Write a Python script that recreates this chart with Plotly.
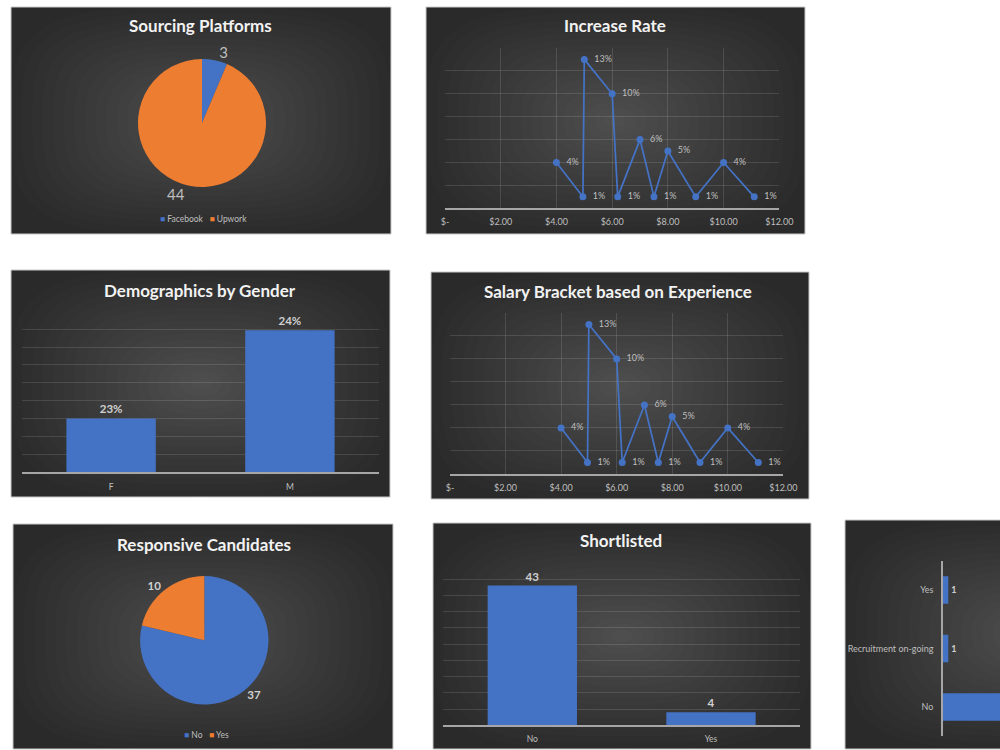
import math
import plotly.graph_objects as go

W, H = 1000, 750

# ---------------- data ----------------
platform_labels = ["Facebook", "Upwork"]
platform_values = [3, 44]

rate_x = [4.0, 4.95, 5.0, 6.0, 6.2, 7.0, 7.5, 8.0, 9.0, 10.0, 11.1]
rate_y = [0.04, 0.01, 0.13, 0.10, 0.01, 0.06, 0.01, 0.05, 0.01, 0.04, 0.01]

salary_x = [4.0, 4.95, 5.0, 6.0, 6.2, 7.0, 7.5, 8.0, 9.0, 10.0, 11.1]
salary_y = [0.04, 0.01, 0.13, 0.10, 0.01, 0.06, 0.01, 0.05, 0.01, 0.04, 0.01]

money_ticks = [0, 2, 4, 6, 8, 10, 12]
money_tick_text = ["$-", "$2.00", "$4.00", "$6.00", "$8.00", "$10.00", "$12.00"]

gender_labels = ["F", "M"]
gender_values = [0.2300, 0.2399]

responsive_labels = ["No", "Yes"]
responsive_values = [37, 10]

shortlisted_labels = ["No", "Yes"]
shortlisted_values = [43, 4]

status_labels = ["No", "Recruitment on-going", "Yes"]
status_values = [45, 1, 1]
STATUS_VISIBLE_MAX = 10.75  # x-range shown in the cropped panel

# ---------------- styling ----------------
BLUE = "#4472C4"
ORANGE = "#ED7D31"
GRID = "rgba(255,255,255,0.12)"
AXIS = "#a6a6a6"
TICK = "#bfbfbf"
LABEL = "#d0d0d0"
TITLE = "#f2f2f2"
FONT = "Lato, Open Sans, sans-serif"


def fx(p):
    return p / W


def fy(p):
    return 1 - p / H


shapes = []


def panel(x0, y0, x1, y1):
    shapes.append(dict(type="rect", xref="paper", yref="paper", layer="below",
                       x0=fx(x0), x1=fx(x1), y0=fy(y1), y1=fy(y0),
                       fillcolor="#2a2a2a", line=dict(width=0)))
    cx, cy = (x0 + x1) / 2, (y0 + y1) / 2
    hw, hh = (x1 - x0) / 2, (y1 - y0) / 2
    n = 18
    for i in range(n):
        s = 1 - i / n
        p = 2 + 1.6 * s
        pts = []
        for k in range(73):
            t = 2 * math.pi * k / 72
            c, si = math.cos(t), math.sin(t)
            px = cx + hw * s * math.copysign(abs(c) ** (2 / p), c)
            py = cy + hh * s * math.copysign(abs(si) ** (2 / p), si)
            pts.append(f"{fx(px):.5f},{fy(py):.5f}")
        path = "M" + " L".join(pts) + " Z"
        shapes.append(dict(type="path", xref="paper", yref="paper", layer="below",
                           path=path, fillcolor="rgba(255,255,255,0.013)",
                           line=dict(width=0)))
    shapes.append(dict(type="rect", xref="paper", yref="paper", layer="below",
                       x0=fx(x0), x1=fx(x1), y0=fy(y1), y1=fy(y0),
                       fillcolor="rgba(0,0,0,0)", line=dict(color="#c8c8c8", width=1)))


panel(11, 7, 391, 234)
panel(426, 7, 805, 234)
panel(11, 270, 390, 497)
panel(431, 272, 809, 499)
panel(13, 524, 393, 749)
panel(433, 523, 811, 749)
panel(845, 520, 1225, 749)

fig = go.Figure()

# Pie: Sourcing Platforms
fig.add_trace(go.Pie(
    labels=platform_labels, values=platform_values, sort=False,
    direction="clockwise", rotation=0,
    marker=dict(colors=[BLUE, ORANGE], line=dict(width=0)),
    textinfo="value", textposition="outside",
    outsidetextfont=dict(size=15, color=TICK, family=FONT),
    domain=dict(x=[fx(138), fx(266)], y=[fy(187), fy(59)]),
    showlegend=False, automargin=False,
))

# Pie: Responsive Candidates
fig.add_trace(go.Pie(
    labels=responsive_labels, values=responsive_values, sort=False,
    direction="clockwise", rotation=0,
    marker=dict(colors=[BLUE, ORANGE], line=dict(width=0)),
    textinfo="value", textposition="outside",
    outsidetextfont=dict(size=11.5, color=LABEL, family=FONT, weight="bold"),
    domain=dict(x=[fx(140.1), fx(268.5)], y=[fy(704.5), fy(576.1)]),
    showlegend=False, automargin=False,
))

# Line: Increase Rate
fig.add_trace(go.Scatter(
    x=rate_x, y=rate_y, mode="lines+markers+text",
    texttemplate="  %{y:.0%}", textposition="middle right",
    textfont=dict(size=9, color=TICK, family=FONT),
    line=dict(color=BLUE, width=1.75), marker=dict(size=7, color=BLUE),
    cliponaxis=False, xaxis="x", yaxis="y", showlegend=False,
))

# Line: Salary Bracket
fig.add_trace(go.Scatter(
    x=salary_x, y=salary_y, mode="lines+markers+text",
    texttemplate="  %{y:.0%}", textposition="middle right",
    textfont=dict(size=9, color=TICK, family=FONT),
    line=dict(color=BLUE, width=1.75), marker=dict(size=7, color=BLUE),
    cliponaxis=False, xaxis="x2", yaxis="y2", showlegend=False,
))

# Bar: Demographics by Gender
fig.add_trace(go.Bar(
    x=gender_labels, y=gender_values, width=0.5, marker=dict(color=BLUE, line=dict(width=0)),
    texttemplate="%{y:.0%}", textposition="outside",
    outsidetextfont=dict(size=11.5, color=LABEL, family=FONT, weight="bold"),
    xaxis="x3", yaxis="y3", showlegend=False,
))

# Bar: Shortlisted
fig.add_trace(go.Bar(
    x=shortlisted_labels, y=shortlisted_values, width=0.5, marker=dict(color=BLUE, line=dict(width=0)),
    texttemplate="%{y}", textposition="outside",
    outsidetextfont=dict(size=11.5, color=LABEL, family=FONT, weight="bold"),
    xaxis="x4", yaxis="y4", showlegend=False,
))

# Horizontal bar (partially visible, cropped at the page edge)
status_text = [str(v) if v <= STATUS_VISIBLE_MAX else "" for v in status_values]
fig.add_trace(go.Bar(
    y=status_labels, x=status_values, orientation="h", width=0.47,
    marker=dict(color=BLUE, line=dict(width=0)),
    text=status_text, textposition="outside",
    outsidetextfont=dict(size=9, color=LABEL, family=FONT, weight="bold"),
    xaxis="x5", yaxis="y5", showlegend=False,
))

common_x = dict(showgrid=False, zeroline=False, ticks="", automargin=False,
                tickfont=dict(size=9, color=TICK, family=FONT))
common_y = dict(zeroline=False, showticklabels=False, ticks="", automargin=False)

fig.update_layout(
    width=W, height=H, autosize=False, margin=dict(l=0, r=0, t=0, b=0, pad=0),
    paper_bgcolor="white", plot_bgcolor="rgba(0,0,0,0)",
    font=dict(family=FONT, color=TICK),
    showlegend=False, bargap=0.5,
    shapes=shapes,
    xaxis=dict(common_x, domain=[fx(445), fx(779.3)], range=[0, 12], tickvals=money_ticks,
               ticktext=money_tick_text, showgrid=True, gridcolor=GRID,
               showline=True, linecolor=AXIS, linewidth=1.5, anchor="y", ticklabelstandoff=4),
    yaxis=dict(common_y, domain=[fy(208.3), fy(47.7)], range=[0, 0.1402], dtick=0.02,
               showgrid=True, gridcolor=GRID, anchor="x"),
    xaxis2=dict(common_x, domain=[fx(450), fx(783.3)], range=[0, 12], tickvals=money_ticks,
                ticktext=money_tick_text, showgrid=True, gridcolor=GRID,
                showline=True, linecolor=AXIS, linewidth=1.5, anchor="y2", ticklabelstandoff=4),
    yaxis2=dict(common_y, domain=[fy(474), fy(312.7)], range=[0, 0.1402], dtick=0.02,
                showgrid=True, gridcolor=GRID, anchor="x2"),
    xaxis3=dict(common_x, domain=[fx(21.7), fx(379.3)], tickfont=dict(size=8.5, color=TICK, family=FONT),
                showline=True, linecolor=AXIS, linewidth=1.5, anchor="y3", ticklabelstandoff=6),
    yaxis3=dict(common_y, domain=[fy(472), fy(311.3)], range=[0.224, 0.24202], dtick=0.002,
                showgrid=True, gridcolor=GRID, anchor="x3"),
    xaxis4=dict(common_x, domain=[fx(443), fx(800.3)], tickfont=dict(size=8.5, color=TICK, family=FONT),
                showline=True, linecolor=AXIS, linewidth=1.5, anchor="y4", ticklabelstandoff=5),
    yaxis4=dict(common_y, domain=[fy(725.3), fy(562.7)], range=[0, 50.05], dtick=5,
                showgrid=True, gridcolor=GRID, anchor="x4"),
    xaxis5=dict(domain=[fx(943), 1.0], range=[0, STATUS_VISIBLE_MAX], showgrid=False, zeroline=False,
                showticklabels=False, anchor="y5", automargin=False),
    yaxis5=dict(domain=[fy(736.3), fy(560.7)], categoryorder="array", categoryarray=status_labels,
                showline=True, linecolor=AXIS, linewidth=1.5, showgrid=False, zeroline=False,
                ticks="", tickfont=dict(size=9, color=TICK, family=FONT), anchor="x5",
                ticklabelstandoff=6, automargin=False),
)

# Titles
titles = [
    ("Sourcing Platforms", 200, 26),
    ("Increase Rate", 615, 26),
    ("Demographics by Gender", 200, 290),
    ("Salary Bracket based on Experience", 618, 291),
    ("Responsive Candidates", 204, 544),
    ("Shortlisted", 621, 540),
]
for text, x, y in titles:
    fig.add_annotation(text=text, x=fx(x), y=fy(y), xref="paper", yref="paper",
                       showarrow=False, xanchor="center", yanchor="middle",
                       font=dict(size=17, color=TITLE, family=FONT, weight="bold"))


def legend_text(labels, colors):
    return "   ".join(f"<span style='color:{c}'>■</span> {lab}" for lab, c in zip(labels, colors))


fig.add_annotation(text=legend_text(platform_labels, [BLUE, ORANGE]), x=fx(203), y=fy(219),
                   xref="paper", yref="paper", showarrow=False, xanchor="center", yanchor="middle",
                   font=dict(size=8.5, color=TICK, family=FONT))
fig.add_annotation(text=legend_text(responsive_labels, [BLUE, ORANGE]), x=fx(206), y=fy(735),
                   xref="paper", yref="paper", showarrow=False, xanchor="center", yanchor="middle",
                   font=dict(size=8.5, color=TICK, family=FONT))

fig.write_html("out.html")
